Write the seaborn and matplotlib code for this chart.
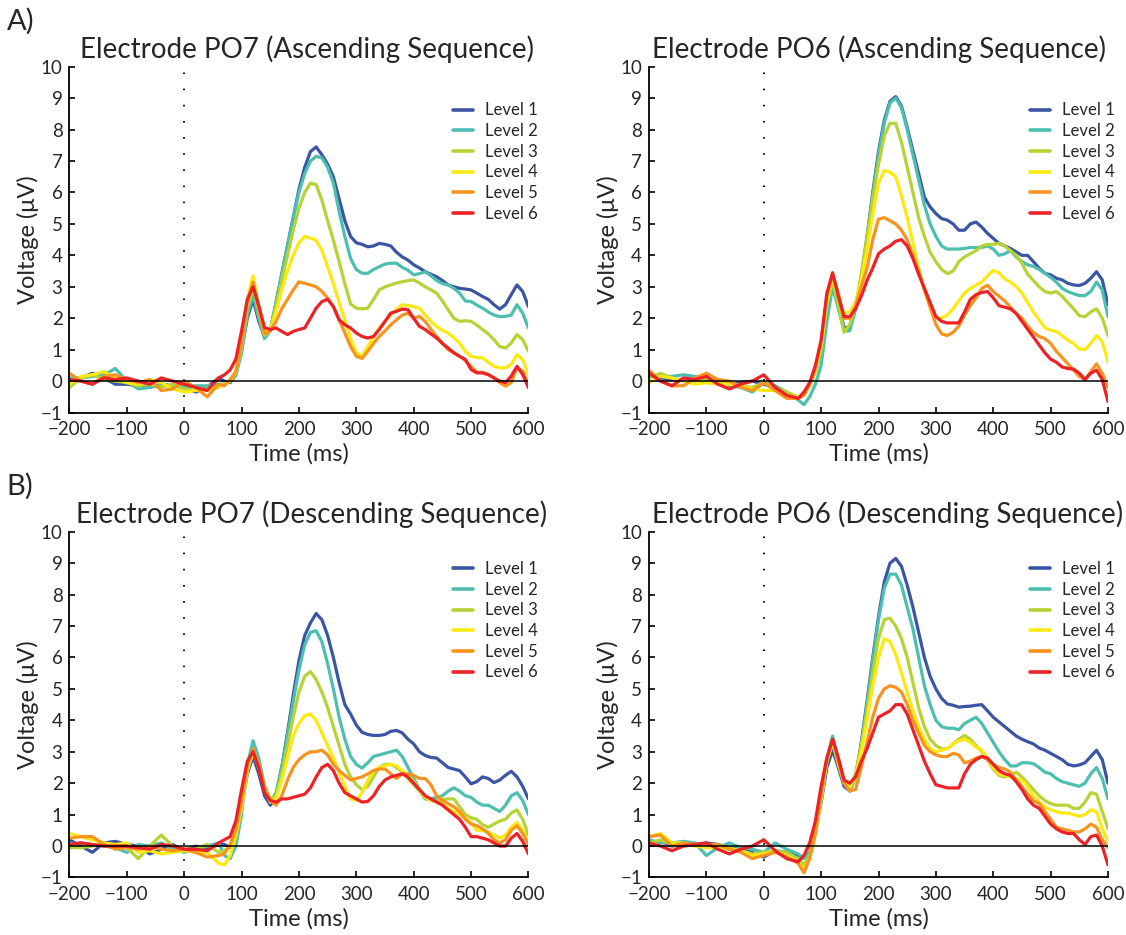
import matplotlib
matplotlib.use("Agg")
import matplotlib.pyplot as plt
import pandas as pd
import seaborn as sns

# Time axis in ms: 20 ms steps over the baseline, 10 ms steps afterwards
time_ms = list(range(-200, 61, 20)) + list(range(70, 601, 10))

levels = ["Level 1", "Level 2", "Level 3", "Level 4", "Level 5", "Level 6"]
level_colors = ["#3b55a5", "#4cbfb0", "#b5d334", "#fde910", "#f7931e", "#ec2227"]
time_ticks = [-200, -100, 0, 100, 200, 300, 400, 500, 600]
voltage_ticks = [-1, 0, 1, 2, 3, 4, 5, 6, 7, 8, 9, 10]

# ---- Electrode PO7, ascending sequence (µV) ----
po7_asc_l1 = [0.0, 0.1, 0.25, 0.1, -0.1, -0.1, -0.15, -0.2, -0.1, -0.15, -0.2, -0.35, -0.2, 0.1,
              0.0, -0.05, 0.2, 1.0, 2.0, 2.6, 1.9, 1.4, 1.6, 2.5, 3.4, 4.3, 5.2, 6.1, 6.8, 7.3, 7.45, 7.2,
              6.9, 6.5, 5.8, 5.1, 4.6, 4.4, 4.35, 4.27, 4.3, 4.38, 4.35, 4.3, 4.1, 3.95, 3.85, 3.7, 3.6,
              3.48, 3.4, 3.32, 3.2, 3.06, 3.0, 2.95, 2.93, 2.9, 2.8, 2.69, 2.6, 2.43, 2.29, 2.43, 2.75,
              3.06, 2.85, 2.37]
po7_asc_l2 = [0.1, 0.1, 0.15, 0.2, 0.4, 0.0, -0.25, -0.2, -0.1, -0.15, -0.2, -0.15, -0.15, -0.1,
              -0.1, 0.0, 0.2, 0.9, 2.1, 2.75, 2.0, 1.35, 1.6, 2.5, 3.4, 4.3, 5.2, 6.0, 6.6, 7.0, 7.15, 7.1,
              6.8, 6.3, 5.4, 4.6, 3.9, 3.55, 3.43, 3.43, 3.55, 3.64, 3.72, 3.75, 3.75, 3.62, 3.53, 3.38,
              3.42, 3.48, 3.35, 3.2, 3.1, 3.06, 2.95, 2.8, 2.55, 2.53, 2.42, 2.32, 2.2, 2.1, 2.05, 2.06,
              2.1, 2.43, 2.16, 1.69]
po7_asc_l3 = [-0.2, 0.1, 0.2, 0.05, 0.0, -0.05, -0.15, -0.1, -0.2, -0.1, -0.25, -0.3, -0.25, -0.15,
              -0.1, 0.0, 0.25, 1.1, 2.3, 3.0, 2.2, 1.45, 1.6, 2.4, 3.2, 4.0, 4.8, 5.5, 6.0, 6.3, 6.25,
              5.75, 5.1, 4.48, 3.8, 3.1, 2.45, 2.32, 2.3, 2.32, 2.6, 2.9, 3.0, 3.06, 3.12, 3.16, 3.2,
              3.22, 3.12, 3.0, 2.9, 2.8, 2.55, 2.27, 2.0, 1.9, 1.92, 1.9, 1.78, 1.64, 1.5, 1.32, 1.1,
              1.05, 1.21, 1.48, 1.32, 0.95]
po7_asc_l4 = [-0.1, 0.15, 0.2, 0.3, 0.1, -0.05, -0.1, 0.05, -0.05, -0.25, -0.35, -0.3, -0.3, -0.2,
              -0.1, 0.0, 0.3, 1.3, 2.6, 3.35, 2.4, 1.5, 1.65, 2.2, 2.9, 3.5, 4.0, 4.4, 4.6, 4.55, 4.48,
              4.15, 3.64, 3.1, 2.5, 1.95, 1.35, 0.9, 0.8, 1.1, 1.4, 1.69, 1.9, 2.1, 2.28, 2.43, 2.4, 2.37,
              2.32, 2.1, 1.9, 1.74, 1.62, 1.53, 1.38, 1.21, 0.95, 0.79, 0.75, 0.74, 0.6, 0.47, 0.42,
              0.42, 0.53, 0.84, 0.69, 0.21]
po7_asc_l5 = [0.25, 0.0, -0.1, 0.15, 0.2, 0.05, -0.05, 0.05, -0.3, -0.25, 0.0, -0.2, -0.5, -0.1,
              -0.15, 0.05, 0.3, 1.2, 2.5, 3.15, 2.3, 1.5, 1.6, 1.9, 2.3, 2.6, 2.9, 3.16, 3.11, 3.06, 3.0,
              2.85, 2.64, 2.37, 1.95, 1.53, 1.1, 0.79, 0.72, 0.95, 1.2, 1.42, 1.6, 1.79, 1.95, 2.1, 2.16,
              2.0, 2.06, 1.9, 1.65, 1.42, 1.2, 1.0, 0.9, 0.79, 0.65, 0.47, 0.28, 0.28, 0.2, 0.1, -0.05,
              -0.16, -0.05, 0.42, 0.32, -0.1]
po7_asc_l6 = [0.05, 0.0, -0.1, 0.1, 0.05, 0.1, 0.0, -0.1, 0.1, 0.0, -0.1, -0.2, -0.3, 0.1,
              0.2, 0.35, 0.7, 1.6, 2.6, 3.0, 2.4, 1.7, 1.64, 1.69, 1.58, 1.48, 1.58, 1.64, 1.69, 2.0,
              2.32, 2.53, 2.6, 2.37, 1.95, 1.79, 1.69, 1.53, 1.42, 1.37, 1.42, 1.64, 1.9, 2.16, 2.22,
              2.29, 2.27, 2.0, 1.74, 1.64, 1.5, 1.37, 1.2, 1.05, 0.9, 0.79, 0.69, 0.37, 0.26, 0.26, 0.21,
              0.1, 0.0, -0.05, 0.16, 0.47, 0.21, -0.21]

# ---- Electrode PO6, ascending sequence (µV) ----
po6_asc_l1 = [0.2, 0.1, 0.05, 0.05, 0.05, 0.1, -0.05, -0.1, -0.05, 0.0, -0.1, -0.2, -0.4, -0.55,
              -0.4, -0.1, 0.3, 1.0, 2.2, 3.1, 2.4, 1.7, 1.7, 2.3, 3.3, 4.6, 6.0, 7.3, 8.3, 8.9, 9.05,
              8.75, 8.07, 7.33, 6.6, 5.85, 5.54, 5.33, 5.17, 5.12, 5.0, 4.8, 4.8, 5.0, 5.06, 4.9, 4.7,
              4.54, 4.38, 4.3, 4.22, 4.11, 4.0, 4.0, 3.8, 3.59, 3.43, 3.38, 3.27, 3.22, 3.11, 3.06, 3.04,
              3.11, 3.27, 3.48, 3.22, 2.43]
po6_asc_l2 = [0.2, 0.15, 0.15, 0.2, 0.15, 0.05, 0.0, -0.15, -0.2, -0.35, -0.05, -0.15, -0.35, -0.6,
              -0.75, -0.5, -0.1, 0.5, 1.9, 3.0, 2.3, 1.6, 1.6, 2.3, 3.3, 4.5, 5.9, 7.2, 8.2, 8.85, 9.0,
              8.7, 8.0, 7.2, 6.4, 5.6, 5.0, 4.6, 4.3, 4.2, 4.2, 4.2, 4.22, 4.25, 4.25, 4.25, 4.3, 4.2,
              4.0, 4.05, 4.15, 3.95, 3.8, 3.7, 3.65, 3.55, 3.43, 3.3, 3.15, 2.95, 2.85, 2.78, 2.72, 2.72,
              2.85, 3.15, 2.9, 2.05]
po6_asc_l3 = [0.1, 0.25, 0.1, 0.0, 0.0, 0.05, 0.0, -0.05, -0.15, -0.2, -0.05, -0.2, -0.35, -0.5,
              -0.45, -0.15, 0.3, 1.0, 2.4, 3.2, 2.4, 1.55, 1.8, 2.4, 3.4, 4.6, 5.8, 6.9, 7.8, 8.2, 8.2,
              7.6, 6.8, 6.0, 5.2, 4.6, 4.1, 3.8, 3.55, 3.42, 3.5, 3.8, 3.95, 4.05, 4.15, 4.3, 4.35, 4.35,
              4.38, 4.3, 4.15, 4.0, 3.75, 3.4, 3.2, 3.0, 2.85, 2.8, 2.85, 2.7, 2.5, 2.3, 2.08, 2.05, 2.2,
              2.3, 2.0, 1.45]
po6_asc_l4 = [-0.05, 0.15, 0.1, 0.0, -0.1, -0.05, -0.1, -0.1, -0.15, -0.25, -0.3, -0.3, -0.45, -0.5,
              -0.4, -0.15, 0.3, 1.1, 2.5, 3.35, 2.7, 2.15, 2.2, 2.5, 3.2, 4.2, 5.3, 6.3, 6.7, 6.65, 6.5,
              5.9, 5.2, 4.4, 3.6, 2.9, 2.35, 2.05, 2.0, 2.1, 2.3, 2.55, 2.8, 2.95, 3.05, 3.15, 3.35, 3.52,
              3.45, 3.25, 3.15, 3.0, 2.8, 2.5, 2.2, 1.95, 1.7, 1.62, 1.58, 1.45, 1.3, 1.2, 1.02, 1.0, 1.2,
              1.45, 1.25, 0.6]
po6_asc_l5 = [0.35, 0.0, -0.15, -0.15, 0.1, 0.25, 0.05, 0.0, -0.2, -0.3, -0.05, -0.3, -0.55, -0.55,
              -0.45, -0.1, 0.4, 1.3, 2.7, 3.4, 2.8, 2.0, 2.0, 2.4, 3.0, 3.6, 4.5, 5.15, 5.2, 5.1, 5.0,
              4.8, 4.5, 4.0, 3.5, 2.9, 2.35, 1.8, 1.5, 1.45, 1.55, 1.75, 2.1, 2.4, 2.65, 2.95, 3.05, 2.85,
              2.7, 2.55, 2.35, 2.15, 2.0, 1.75, 1.55, 1.42, 1.35, 1.2, 0.95, 0.75, 0.55, 0.35, 0.15, 0.05,
              0.3, 0.55, 0.25, -0.2]
po6_asc_l6 = [0.25, 0.0, -0.15, 0.1, 0.05, 0.15, -0.1, -0.25, -0.1, 0.0, 0.2, -0.2, -0.45, -0.55,
              -0.35, -0.05, 0.5, 1.3, 2.8, 3.45, 2.7, 2.05, 2.05, 2.3, 2.7, 3.2, 3.6, 4.05, 4.2, 4.3,
              4.45, 4.5, 4.3, 3.9, 3.4, 2.95, 2.5, 2.05, 1.9, 1.85, 1.85, 1.85, 2.2, 2.6, 2.75, 2.82,
              2.85, 2.65, 2.4, 2.35, 2.3, 2.15, 1.9, 1.65, 1.4, 1.15, 0.9, 0.7, 0.6, 0.45, 0.4, 0.38,
              0.25, 0.05, 0.25, 0.35, 0.05, -0.65]

# ---- Electrode PO7, descending sequence (µV) ----
po7_desc_l1 = [0.2, 0.0, -0.2, 0.1, 0.15, 0.05, 0.0, -0.25, -0.1, 0.05, -0.15, 0.0, -0.1, 0.05,
               0.05, -0.05, 0.4, 1.3, 2.3, 2.85, 2.3, 1.6, 1.3, 1.6, 2.5, 3.6, 4.8, 5.9, 6.7, 7.1, 7.4,
               7.2, 6.7, 6.0, 5.2, 4.5, 4.2, 3.85, 3.62, 3.55, 3.52, 3.52, 3.55, 3.65, 3.68, 3.6, 3.4,
               3.25, 3.0, 2.88, 2.82, 2.8, 2.65, 2.5, 2.45, 2.4, 2.2, 1.98, 2.05, 2.2, 2.15, 2.02, 2.1,
               2.25, 2.38, 2.2, 1.9, 1.5]
po7_desc_l2 = [0.05, 0.1, 0.05, 0.0, -0.05, -0.2, 0.05, 0.0, 0.1, -0.1, -0.2, -0.1, 0.0, 0.1,
               -0.3, -0.4, 0.0, 1.0, 2.6, 3.35, 2.8, 1.9, 1.4, 1.7, 2.5, 3.5, 4.6, 5.6, 6.4, 6.8, 6.85,
               6.5, 5.8, 5.0, 4.1, 3.4, 2.85, 2.6, 2.48, 2.65, 2.85, 2.9, 2.95, 3.0, 3.05, 2.85, 2.5, 2.15,
               1.8, 1.5, 1.5, 1.55, 1.6, 1.75, 1.85, 1.75, 1.6, 1.55, 1.4, 1.3, 1.3, 1.2, 1.1, 1.3, 1.6,
               1.7, 1.45, 1.0]
po7_desc_l3 = [-0.05, -0.05, 0.0, 0.1, 0.0, -0.05, -0.4, 0.0, 0.35, 0.0, -0.1, -0.1, 0.05, -0.2,
               -0.15, 0.0, 0.4, 1.3, 2.4, 3.0, 2.6, 1.9, 1.5, 1.6, 2.3, 3.2, 4.1, 4.9, 5.4, 5.55, 5.3,
               4.9, 4.4, 3.8, 3.2, 2.6, 2.2, 1.95, 1.8, 1.9, 2.2, 2.5, 2.6, 2.6, 2.5, 2.35, 2.15, 1.95,
               1.75, 1.55, 1.45, 1.45, 1.48, 1.5, 1.5, 1.25, 1.0, 0.9, 0.85, 0.68, 0.6, 0.7, 0.8, 0.85,
               1.05, 1.15, 0.85, 0.35]
po7_desc_l4 = [0.4, 0.3, 0.2, 0.1, 0.05, 0.1, -0.2, -0.15, -0.25, -0.2, -0.15, -0.2, -0.2, -0.55,
               -0.6, -0.3, 0.3, 1.2, 2.4, 3.0, 2.5, 1.8, 1.4, 1.5, 2.1, 2.8, 3.5, 3.9, 4.15, 4.2, 4.0,
               3.6, 3.2, 2.8, 2.35, 1.9, 1.5, 1.45, 1.7, 2.1, 2.4, 2.5, 2.55, 2.6, 2.55, 2.4, 2.25, 2.05,
               1.8, 1.55, 1.45, 1.4, 1.35, 1.2, 1.1, 1.0, 0.9, 0.75, 0.5, 0.5, 0.45, 0.35, 0.25, 0.35,
               0.6, 0.75, 0.5, 0.15]
po7_desc_l5 = [0.25, 0.3, 0.3, 0.05, -0.1, -0.05, -0.1, 0.0, -0.1, -0.15, -0.1, -0.2, -0.35, -0.3,
               -0.25, 0.05, 0.5, 1.4, 2.5, 3.1, 2.6, 1.9, 1.45, 1.3, 1.6, 2.1, 2.5, 2.75, 2.9, 3.0, 3.0,
               3.05, 2.9, 2.6, 2.4, 2.25, 2.1, 2.15, 2.2, 2.3, 2.4, 2.45, 2.45, 2.3, 2.15, 2.3, 2.3, 2.25,
               2.15, 2.15, 1.95, 1.6, 1.45, 1.35, 1.25, 1.1, 0.85, 0.7, 0.65, 0.55, 0.4, 0.2, 0.1, 0.2,
               0.5, 0.65, 0.4, 0.05]
po7_desc_l6 = [0.05, 0.1, 0.05, 0.0, 0.0, 0.0, -0.05, -0.1, 0.05, 0.0, -0.1, -0.1, -0.15, 0.1,
               0.2, 0.3, 0.8, 1.8, 2.7, 3.0, 2.5, 1.7, 1.45, 1.4, 1.5, 1.5, 1.55, 1.6, 1.65, 1.85, 2.2,
               2.5, 2.6, 2.4, 2.0, 1.7, 1.6, 1.5, 1.4, 1.42, 1.6, 1.9, 2.1, 2.2, 2.25, 2.3, 2.2, 2.0, 1.8,
               1.6, 1.5, 1.4, 1.3, 1.15, 1.0, 0.85, 0.6, 0.3, 0.3, 0.25, 0.2, 0.1, 0.0, 0.0, 0.25, 0.4,
               0.15, -0.25]

# ---- Electrode PO6, descending sequence (µV) ----
po6_desc_l1 = [0.1, 0.15, 0.0, 0.05, 0.05, 0.1, 0.05, -0.05, -0.1, -0.2, -0.35, -0.15, -0.2, -0.3,
               -0.35, -0.2, 0.5, 1.4, 2.5, 3.05, 2.5, 1.9, 1.75, 2.2, 3.3, 4.6, 6.0, 7.3, 8.4, 9.0, 9.15,
               8.9, 8.3, 7.6, 6.8, 6.0, 5.4, 5.0, 4.7, 4.52, 4.48, 4.42, 4.44, 4.45, 4.48, 4.5, 4.3, 4.1,
               3.95, 3.8, 3.65, 3.5, 3.4, 3.32, 3.25, 3.12, 3.05, 2.95, 2.85, 2.75, 2.6, 2.55, 2.58,
               2.65, 2.85, 3.05, 2.75, 2.0]
po6_desc_l2 = [0.2, 0.1, 0.1, 0.15, 0.1, -0.3, -0.05, 0.1, -0.05, -0.1, -0.2, 0.1, -0.1, -0.25,
               -0.4, -0.2, 0.4, 1.5, 2.8, 3.5, 2.8, 2.0, 1.75, 2.2, 3.2, 4.5, 5.9, 7.2, 8.2, 8.65, 8.65,
               8.3, 7.6, 6.9, 6.0, 5.1, 4.5, 4.0, 3.8, 3.75, 3.75, 3.7, 3.9, 4.0, 4.1, 3.9, 3.6, 3.3, 3.0,
               2.75, 2.55, 2.55, 2.65, 2.65, 2.62, 2.5, 2.35, 2.3, 2.15, 2.05, 2.0, 1.95, 1.9, 2.0, 2.3,
               2.5, 2.15, 1.5]
po6_desc_l3 = [0.1, 0.2, 0.05, 0.0, 0.05, 0.0, -0.05, -0.05, -0.15, -0.25, -0.2, -0.15, -0.2, -0.4,
               -0.6, -0.3, 0.4, 1.5, 2.7, 3.3, 2.7, 2.1, 1.9, 2.3, 3.2, 4.3, 5.5, 6.6, 7.2, 7.25, 7.0,
               6.6, 6.0, 5.2, 4.4, 3.8, 3.4, 3.2, 3.1, 3.1, 3.25, 3.4, 3.52, 3.4, 3.2, 3.0, 2.75, 2.45,
               2.25, 2.2, 2.25, 2.35, 2.2, 2.0, 1.8, 1.6, 1.45, 1.35, 1.3, 1.3, 1.3, 1.2, 1.2, 1.4, 1.7,
               1.65, 1.1, 0.55]
po6_desc_l4 = [0.3, 0.4, 0.1, 0.1, 0.0, -0.05, -0.05, -0.1, -0.15, -0.3, -0.25, -0.2, -0.3, -0.5,
               -0.75, -0.4, 0.4, 1.5, 2.7, 3.3, 2.6, 2.0, 1.85, 2.2, 3.0, 4.0, 5.1, 6.0, 6.6, 6.5, 6.1,
               5.5, 4.9, 4.3, 3.8, 3.4, 3.1, 3.0, 3.05, 3.1, 3.25, 3.35, 3.4, 3.3, 3.15, 3.05, 2.8, 2.5,
               2.3, 2.25, 2.2, 2.15, 2.1, 1.9, 1.6, 1.4, 1.25, 1.15, 1.1, 1.05, 1.05, 1.0, 0.95, 1.0,
               1.15, 1.1, 0.55, 0.15]
po6_desc_l5 = [0.3, 0.35, 0.0, 0.1, 0.05, 0.05, 0.05, -0.1, -0.2, -0.4, -0.3, -0.2, -0.35, -0.55,
               -0.85, -0.4, 0.4, 1.6, 2.8, 3.4, 2.7, 2.0, 1.75, 1.8, 2.5, 3.3, 4.1, 4.7, 5.0, 5.1, 5.05,
               4.9, 4.5, 4.0, 3.6, 3.2, 3.0, 2.9, 2.85, 2.85, 2.95, 2.9, 2.65, 2.7, 2.8, 2.85, 2.75, 2.6,
               2.5, 2.45, 2.35, 2.1, 1.9, 1.65, 1.45, 1.35, 1.1, 0.85, 0.6, 0.55, 0.5, 0.45, 0.45, 0.55,
               0.7, 0.6, 0.2, -0.05]
po6_desc_l6 = [0.1, 0.0, -0.15, 0.0, 0.05, 0.1, -0.1, -0.25, -0.1, 0.0, 0.2, -0.15, -0.4, -0.5,
               -0.3, 0.1, 0.8, 1.9, 2.8, 3.4, 2.8, 2.1, 2.0, 2.2, 2.7, 3.1, 3.6, 4.1, 4.2, 4.3, 4.5, 4.5,
               4.2, 3.7, 3.2, 2.7, 2.3, 1.95, 1.9, 1.85, 1.85, 1.85, 2.3, 2.6, 2.75, 2.85, 2.8, 2.6, 2.4,
               2.3, 2.25, 2.05, 1.8, 1.5, 1.3, 1.2, 0.95, 0.7, 0.55, 0.45, 0.4, 0.4, 0.2, 0.05, 0.3, 0.35,
               0.0, -0.6]

panels = [
    # title, series, axes rect [left, bottom, width, height], title x-shift (axes frac), legend anchor
    ("Electrode PO7 (Ascending Sequence)",
     [po7_asc_l1, po7_asc_l2, po7_asc_l3, po7_asc_l4, po7_asc_l5, po7_asc_l6],
     [0.0617, 0.5588, 0.4076, 0.3698], 0.017, (0.835, 0.897)),
    ("Electrode PO6 (Ascending Sequence)",
     [po6_asc_l1, po6_asc_l2, po6_asc_l3, po6_asc_l4, po6_asc_l5, po6_asc_l6],
     [0.5764, 0.5588, 0.4076, 0.3698], 0.0, (0.830, 0.897)),
    ("Electrode PO7 (Descending Sequence)",
     [po7_desc_l1, po7_desc_l2, po7_desc_l3, po7_desc_l4, po7_desc_l5, po7_desc_l6],
     [0.0617, 0.0615, 0.4076, 0.3698], 0.027, (0.835, 0.915)),
    ("Electrode PO6 (Descending Sequence)",
     [po6_desc_l1, po6_desc_l2, po6_desc_l3, po6_desc_l4, po6_desc_l5, po6_desc_l6],
     [0.5764, 0.0615, 0.4076, 0.3698], 0.02, (0.830, 0.915)),
]

sns.set_style("ticks")
plt.rcParams["font.family"] = ["Lato", "DejaVu Sans"]
plt.rcParams["axes.unicode_minus"] = True

fig = plt.figure(figsize=(11.26, 9.35), dpi=100)

for title, series, rect, title_shift, legend_anchor in panels:
    frames = []
    for name, values in zip(levels, series):
        assert len(values) == len(time_ms), (title, name, len(values))
        frames.append(pd.DataFrame({"time": time_ms, "voltage": values, "level": name}))
    df = pd.concat(frames, ignore_index=True)

    ax = fig.add_axes(rect)
    sns.lineplot(data=df, x="time", y="voltage", hue="level", hue_order=levels,
                 palette=level_colors, linewidth=2.3, estimator=None, sort=False,
                 ax=ax, legend=True)
    for line in ax.lines:
        line.set_solid_joinstyle("round")
        line.set_solid_capstyle("round")

    # stimulus onset and zero reference
    ax.axvline(0, color="black", linewidth=1.4, linestyle=(0, (0.8, 7.5)), zorder=1)
    ax.axhline(0, color="black", linewidth=1.1, zorder=5)

    ax.set_xlim(-200, 600)
    ax.set_ylim(-1, 10)
    ax.set_xticks(time_ticks)
    ax.set_yticks(voltage_ticks)
    ax.tick_params(direction="in", length=4, width=1.2, labelsize=13.5, color="black")
    ax.tick_params(axis="x", pad=6)
    ax.tick_params(axis="y", pad=5)
    for side in ("top", "right"):
        ax.spines[side].set_visible(False)
    for side in ("left", "bottom"):
        ax.spines[side].set_linewidth(1.3)
        ax.spines[side].set_color("black")

    ax.set_xlabel("Time (ms)", fontsize=17, labelpad=4)
    ax.set_ylabel("Voltage (\u03bcV)", fontsize=17, labelpad=1)
    ttl = ax.set_title(title, fontsize=20, pad=6)
    ttl.set_x(0.5 + title_shift)

    old = ax.get_legend()
    handles = old.legend_handles
    labels = [t.get_text() for t in old.get_texts()]
    leg = ax.legend(handles, labels, loc="upper left", bbox_to_anchor=legend_anchor,
                    frameon=False, fontsize=12, handlelength=1.2, handletextpad=0.75,
                    labelspacing=0.28, borderpad=0.0, borderaxespad=0.0)
    for h in leg.legend_handles:
        h.set_linewidth(2.6)

fig.text(0.006, 0.992, "A)", fontsize=21, va="top", ha="left")
fig.text(0.006, 0.494, "B)", fontsize=21, va="top", ha="left")

fig.savefig("out.png", dpi=100)
